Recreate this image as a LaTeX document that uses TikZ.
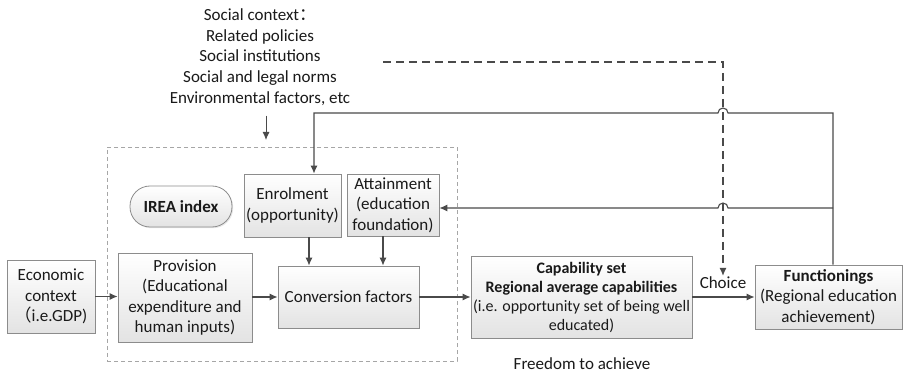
\documentclass[tikz,border=0pt]{standalone}
\usepackage{fontspec}
\setmainfont{Carlito}
\newfontfamily\cjk{Noto Sans CJK SC}
\usetikzlibrary{arrows.meta,positioning,shadows,calc}
\definecolor{boxline}{HTML}{8C8C8C}
\definecolor{linkgray}{HTML}{4A4A4A}
\definecolor{txtdark}{HTML}{1A1A1A}
\definecolor{framegray}{HTML}{A6A6A6}
\tikzset{
  block/.style={rectangle,draw=boxline,top color=white,bottom color=gray!22,
    text=txtdark,font=\fontsize{17}{20.5}\selectfont,align=center,line width=0.8pt,
    inner sep=2pt,
    drop shadow={shadow xshift=1.2pt,shadow yshift=-1.2pt,opacity=0.18}},
  pill/.style={block,rounded corners=20pt,font=\fontsize{17}{20.5}\selectfont\bfseries},
  iframe/.style={rectangle,draw=framegray,dash pattern=on 4pt off 3pt,line width=0.8pt},
  plaintext/.style={text=txtdark,font=\fontsize{17}{20.5}\selectfont,align=center,inner sep=1pt},
  myarrow/.style={-{Latex[length=8pt,width=7pt]},line width=1.1pt,draw=linkgray,#1},
  myarrow/.default={},
  dasharrow/.style={myarrow,dash pattern=on 8pt off 5pt},
}

\begin{document}
\begin{tikzpicture}[x=1pt,y=1pt]
  \fill[white] (0,0) rectangle (903,-374);
  \useasboundingbox (0,0) rectangle (903,-374);
  % IREA frame
  \node[iframe,minimum width=350pt,minimum height=214pt] (frame) at (282,-254) {};
  % social context
  \node[plaintext,font=\fontsize{17}{20.7}\selectfont] (social) at (260,-57) {
    Social context{\cjk ：}\\Related policies\\Social institutions\\
    Social and legal norms\\Environmental factors, etc};
  % boxes
  \node[block,minimum width=88pt,minimum height=73pt] (econ) at (51,-296.5) {
    Economic\\context\\{\cjk （}i.e.GDP)};
  \node[block,minimum width=134pt,minimum height=89pt] (prov) at (185,-297.5) {
    Provision\\(Educational\\expenditure and\\human inputs)};
  \node[block,minimum width=141pt,minimum height=62pt] (conv) at (348.5,-297) {
    Conversion factors};
  \node[block,minimum width=91pt,minimum height=63pt] (enrol) at (292.5,-205.5) {
    Enrolment\\(opportunity)};
  \node[block,minimum width=92pt,minimum height=62pt] (attain) at (393,-205) {
    Attainment\\(education\\foundation)};
  \node[pill,minimum width=102pt,minimum height=41pt] (irea) at (181,-206.5) {IREA index};
  \node[block,minimum width=219pt,minimum height=82pt,
    font=\fontsize{16}{19}\selectfont] (capab) at (581.5,-297) {
    \textbf{Capability set}\\\textbf{Regional average capabilities}\\
    (i.e. opportunity set of being well\\educated)};
  \node[block,minimum width=147pt,minimum height=64pt] (func) at (828.5,-297) {
    \textbf{Functionings}\\(Regional education\\achievement)};
  \node[plaintext] (choice) at (723,-283) {Choice};
  \node[plaintext] (freedom) at (582,-364) {Freedom to achieve};
  % helper points
  \coordinate (socin) at (266,-140);
  \coordinate (dashstart) at (383,-62);
  \coordinate (fbtop) at (833,-113);
  \coordinate (enrolin) at (314,-113);
  \coordinate (attin) at ([yshift=-3pt]attain.east);
  % connectors
  \draw[myarrow={line width=0.9pt}] ($(social.south -| socin)+(0,-9)$) -- (socin);
  \draw[myarrow] (econ.east) -- (econ.east -| prov.west);
  \draw[myarrow] (prov.east |- conv) -- (conv.west);
  \draw[myarrow] (conv) -- (capab);
  \draw[myarrow] (capab) -- (func);
  \draw[myarrow] ([xshift=16.5pt]enrol.south) -- ([xshift=16.5pt]enrol.south |- conv.north);
  \draw[myarrow] ([xshift=-10pt]attain.south) -- ([xshift=-10pt]attain.south |- conv.north);
  \draw[dasharrow] (dashstart) -- (dashstart -| choice) -- (choice.north);
  \draw[myarrow] ([xshift=4.5pt]func.north) -- (fbtop)
    -- ($(fbtop -| choice)+(5,0)$) arc[start angle=0,end angle=180,radius=5pt]
    -- (enrolin) -- (enrolin |- enrol.north);
  \draw[myarrow] (fbtop |- attin) -- ($(attin -| choice)+(5,0)$)
    arc[start angle=0,end angle=180,radius=5pt] -- (attin);
\end{tikzpicture}
\end{document}
